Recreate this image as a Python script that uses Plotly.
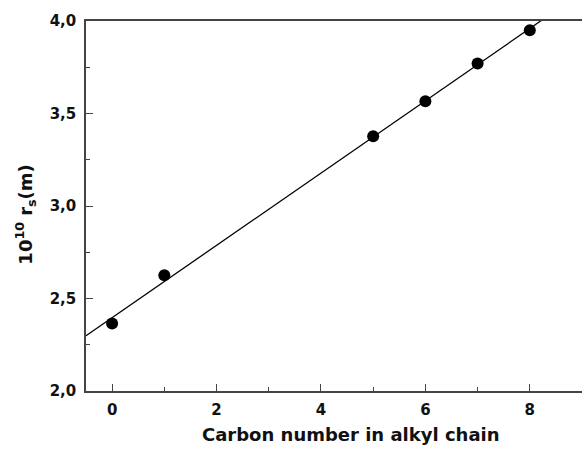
import numpy as np
import plotly.graph_objects as go

# Carbon number in the alkyl chain and measured radius (in units of 1e-10 m)
carbon_number = [0, 1, 5, 6, 7, 8]
radius = [2.365, 2.626, 3.377, 3.566, 3.770, 3.950]

x_ticks = [0, 2, 4, 6, 8]
y_ticks = [2.0, 2.5, 3.0, 3.5, 4.0]

# Least-squares straight line through the points
slope, intercept = np.polyfit(carbon_number, radius, 1)
fit_x = np.array([-0.5, 9.0])
fit_y = slope * fit_x + intercept

FONT = "DejaVu Sans, Arial, sans-serif"
AXIS_COLOR = "#444444"
TEXT_COLOR = "#111111"

fig = go.Figure()
fig.add_trace(go.Scatter(
    x=fit_x, y=fit_y, mode="lines",
    line=dict(color="black", width=1.3),
    hoverinfo="skip", showlegend=False,
))
fig.add_trace(go.Scatter(
    x=carbon_number, y=radius, mode="markers",
    marker=dict(color="black", size=12, line=dict(width=0)),
    showlegend=False,
))

fig.update_xaxes(
    range=[-0.5, 9.0], tickvals=x_ticks,
    ticks="inside", ticklen=7, tickwidth=1.3, tickcolor=AXIS_COLOR,
    minor=dict(ticks="inside", ticklen=4, tickwidth=1.3, tickcolor=AXIS_COLOR, dtick=1),
    showline=True, linecolor=AXIS_COLOR, linewidth=1.5, mirror=True,
    showgrid=False, zeroline=False, ticklabelstandoff=4,
    tickfont=dict(family=FONT, size=15, color=TEXT_COLOR, weight="bold"),
)
fig.update_yaxes(
    range=[2.0, 4.0], tickvals=y_ticks, tickformat=".1f",
    ticks="inside", ticklen=7, tickwidth=1.3, tickcolor=AXIS_COLOR,
    minor=dict(ticks="inside", ticklen=4, tickwidth=1.3, tickcolor=AXIS_COLOR, dtick=0.25),
    showline=True, linecolor=AXIS_COLOR, linewidth=1.5, mirror=False,
    showgrid=False, zeroline=False, ticklabelstandoff=5,
    tickfont=dict(family=FONT, size=15, color=TEXT_COLOR, weight="bold"),
)

fig.add_annotation(
    text="<b>Carbon number in alkyl chain</b>",
    xref="paper", yref="paper", x=0.534, y=-0.118,
    xanchor="center", yanchor="middle", showarrow=False,
    font=dict(family=FONT, size=18, color=TEXT_COLOR),
)
fig.add_annotation(
    text="<b>10<sup>10</sup> r<sub>s</sub>(m)</b>",
    xref="paper", yref="paper", x=-0.122, y=0.478,
    xanchor="center", yanchor="middle", textangle=-90, showarrow=False,
    font=dict(family=FONT, size=18, color=TEXT_COLOR),
)

fig.update_layout(
    width=582, height=449,
    margin=dict(l=86, r=0, t=21, b=58),
    paper_bgcolor="white", plot_bgcolor="white",
    separators=",.",
    font=dict(family=FONT),
)

fig.write_html("out.html")
